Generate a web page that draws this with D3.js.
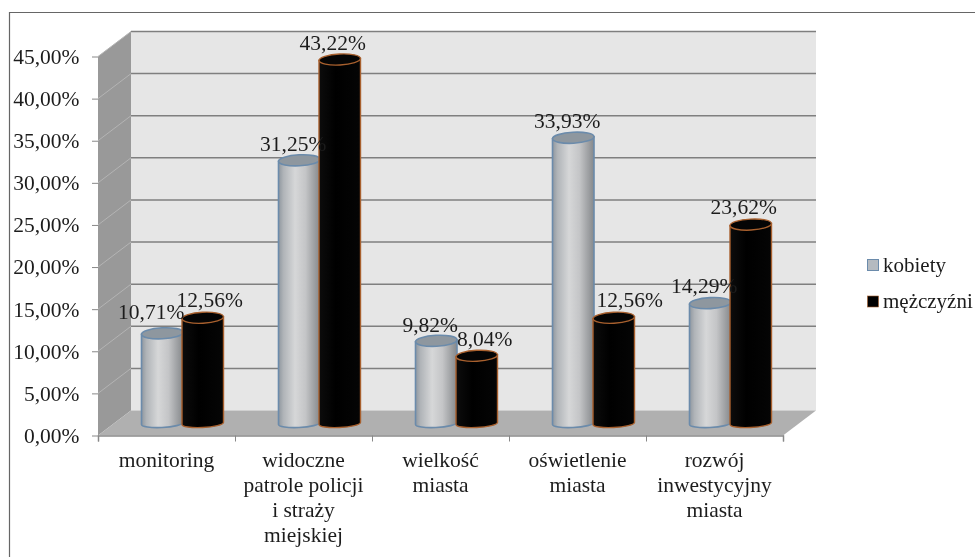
<!DOCTYPE html>
<html><head><meta charset="utf-8">
<script src="https://cdn.jsdelivr.net/npm/d3@7"></script>
<style>html,body{margin:0;background:#fff}svg{display:block;filter:blur(.45px)}text{font-family:"Liberation Serif",serif;fill:#1c1c1c}</style>
</head><body><svg id="c" width="975" height="557"></svg>
<script>
const categories=[["monitoring"],["widoczne","patrole policji","i straży","miejskiej"],["wielkość","miasta"],["oświetlenie","miasta"],["rozwój","inwestycyjny","miasta"]];
const seriesNames=["kobiety","mężczyźni"];
const kobiety=[10.71,31.25,9.82,33.93,14.29];
const mezczyzni=[12.56,43.22,8.04,12.56,23.62];
const ticks=[0,5,10,15,20,25,30,35,40,45];
const labelNudgeK=[[-11,-14],[-6,-9.6],[-6,-9],[-6,-9.8],[-6,-10]];
const labelNudgeM=[[7,-10.7],[-7,-9.5],[8,-9.8],[16,-10.7],[-7,-10.6]];

const svg=d3.select("#c"),defs=svg.append("defs");
const fmt=v=>v.toFixed(2).replace(".",",")+"%";
const FS=21.5;
const y=d3.scaleLinear().domain([0,45]).range([435.5,56.5]);
const x0=d3.scaleBand().domain(d3.range(5)).range([98,783]).paddingInner(0).paddingOuter(0);
const dx=33,dy=-25;
function grad(id,stops){const g=defs.append("linearGradient").attr("id",id);stops.forEach(([o,c])=>g.append("stop").attr("offset",o).attr("stop-color",c));}
grad("gk",[[0,"#8f979f"],[.12,"#b0b4b8"],[.4,"#d6d7d8"],[.65,"#c4c5c7"],[1,"#85888b"]]);
grad("gm",[[0,"#0c0c0c"],[.4,"#000"],[1,"#050505"]]);

const frame=svg.append("g").attr("fill","none");
frame.append("path").attr("d","M9.5,557V12.5H975").attr("stroke","#666").attr("stroke-width",1.2);

const xL=x0.range()[0],xR=x0.range()[1],y0=y(0),yT=y(45);
svg.append("polygon").attr("points",[[xL+dx,yT+dy],[xR+dx,yT+dy],[xR+dx,y0+dy],[xL+dx,y0+dy]].join(" ")).attr("fill","#e6e6e6");
svg.append("polygon").attr("points",[[xL,yT],[xL+dx,yT+dy],[xL+dx,y0+dy],[xL,y0]].join(" ")).attr("fill","#999");
svg.append("polygon").attr("points",[[xL,y0],[xL+dx,y0+dy],[xR+dx,y0+dy],[xR,y0]].join(" ")).attr("fill","#b0b0b0");

ticks.slice(1).forEach(t=>{
 const yy=y(t);
 svg.append("line").attr("x1",xL).attr("y1",yy).attr("x2",xL+dx).attr("y2",yy+dy).attr("stroke","#b4b4b4").attr("stroke-width",1);
 svg.append("line").attr("x1",xL+dx).attr("y1",yy+dy).attr("x2",xR+dx).attr("y2",yy+dy).attr("stroke","#7f7f7f").attr("stroke-width",1.5);
});
const yAxis=d3.axisLeft(y).tickValues(ticks).tickSize(6).tickFormat(fmt);
const gy=svg.append("g").attr("transform",`translate(${xL},0)`).call(yAxis);
gy.selectAll("text").attr("font-size",FS).attr("x",-18.5);
gy.selectAll("line").attr("stroke","#888");
gy.select("path").attr("stroke","none");
const xAxis=d3.axisBottom(d3.scaleLinear().domain([0,5]).range([xL,xR])).tickValues(d3.range(6)).tickSize(6).tickFormat("");
const gx=svg.append("g").attr("transform",`translate(0,${y0})`).call(xAxis);
gx.selectAll("line").attr("stroke","#888");
gx.select("path").attr("stroke","#8a8a8a").attr("stroke-width",1.5);
svg.selectAll(".cat").data(categories).join("text").attr("class","cat")
 .attr("text-anchor","middle").attr("font-size",FS)
 .attr("transform",(d,i)=>`translate(${x0(i)+x0.bandwidth()/2},467)`)
 .selectAll("tspan").data(d=>d).join("tspan").attr("x",0).attr("dy",(d,i)=>i?25:0).text(d=>d);

const step=40.5,barW=41.5,inset=43.5,base=12,ry=5.5;
const yC=v=>y(v)-base;
function cyl(v,cx,fill,stroke,topFill,sw){
 const rx=barW/2,t=yC(v),b=yC(0);
 const g=svg.append("g");
 g.append("path").attr("d",`M${cx-rx},${t+1}L${cx-rx},${b+1}A${rx},4 -3 0 0 ${cx+rx},${b-1}L${cx+rx},${t-1}Z`).attr("fill",fill).attr("stroke",stroke).attr("stroke-width",sw);
 g.append("ellipse").attr("cx",cx).attr("cy",t).attr("rx",rx).attr("ry",ry).attr("transform",`rotate(-3 ${cx} ${t})`).attr("fill",topFill).attr("stroke",stroke).attr("stroke-width",sw);
}
kobiety.forEach((v,i)=>{
 cyl(v,x0(i)+inset+barW/2,"url(#gk)","#6b8bab","#8e979f",1.6);
 cyl(mezczyzni[i],x0(i)+inset+barW/2+step,"url(#gm)","#a8602e","#050505",1.4);
});
function labels(vals,nudge,off){
 vals.forEach((v,i)=>{
  svg.append("text").attr("x",x0(i)+44+40.5*off+nudge[i][0]).attr("y",yC(v)+nudge[i][1]).attr("text-anchor","middle").attr("font-size",FS).text(fmt(v));
 });
}
labels(kobiety,labelNudgeK,.5);
labels(mezczyzni,labelNudgeM,1.5);

seriesNames.forEach((n,i)=>{
 const ly=265+i*36.5;
 svg.append("rect").attr("x",867.5).attr("y",ly-5.5).attr("width",11).attr("height",11).attr("fill",i?"#000":"#b4bac0").attr("stroke",i?"#a8602e":"#6b8bab").attr("stroke-width",i?.6:1);
 svg.append("text").attr("x",883).attr("y",ly+6.5).attr("font-size",21).text(n);
});
</script></body></html>
